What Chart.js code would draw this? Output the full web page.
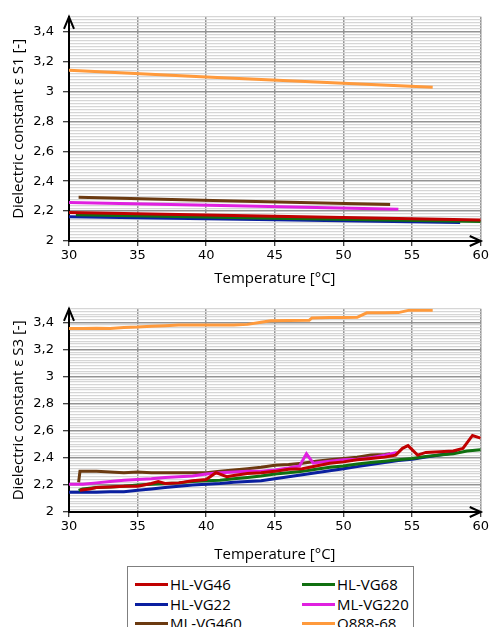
<!DOCTYPE html>
<html>
<head>
<meta charset="utf-8">
<script src="https://cdn.jsdelivr.net/npm/chart.js@4"></script>
<style>
  body { margin: 0; background: #fff; width: 491px; height: 627px; overflow: hidden; position: relative; }
  #c1 { position: absolute; left: 0; top: 0; }
  #c2 { position: absolute; left: 0; top: 292px; }
  #legend {
    position: absolute; left: 127px; top: 566px; width: 285px; height: 70px;
    border: 1px solid #7f7f7f; background: #fff;
    font-family: "Open Sans", sans-serif; font-size: 15px; color: #000;
  }
  .item { position: absolute; height: 20px; line-height: 20px; white-space: nowrap; }
  .item span.swatch { position: absolute; left: 0; top: 9px; width: 33px; height: 3px; }
  .item span.lbl { position: absolute; left: 35px; top: 0; }
</style>
</head>
<body>
<canvas id="c1" width="491" height="292"></canvas>
<canvas id="c2" width="491" height="276"></canvas>
<div id="legend"></div>
<script>
// series names and colours
const seriesNames = ['HL-VG46', 'HL-VG68', 'HL-VG22', 'ML-VG220', 'ML-VG460', 'Q888-68'];
const seriesColors = ['#c00000', '#107010', '#0a1fa0', '#e020e0', '#6b3a10', '#ff9a3c'];

// axis ticks
const xTicks = [30, 35, 40, 45, 50, 55, 60];
const yMin = 2, yMax = 3.5;

// chart 1 (S1) - temperature / dielectric constant
const s1_HL_VG46_T = [30, 45, 60];
const s1_HL_VG46 = [2.19, 2.165, 2.14];
const s1_HL_VG68_T = [30.5, 45, 60];
const s1_HL_VG68 = [2.175, 2.152, 2.13];
const s1_HL_VG22_T = [30, 45, 58.5];
const s1_HL_VG22 = [2.162, 2.142, 2.123];
const s1_ML_VG220_T = [30, 42, 54];
const s1_ML_VG220 = [2.258, 2.236, 2.213];
const s1_ML_VG460_T = [30.7, 42, 53.4];
const s1_ML_VG460 = [2.292, 2.268, 2.245];
const s1_Q888_68_T = [30, 40, 50, 56.5];
const s1_Q888_68 = [3.142, 3.097, 3.055, 3.028];

// chart 2 (S3)
const s3_HL_VG46_T = [30.8, 31.5, 32, 33, 34, 35, 36, 36.5, 37, 38, 39, 40, 40.7, 41.5, 42, 43, 44, 45, 46, 47, 48, 49, 50, 51, 52, 53, 53.8, 54.3, 54.7, 55.4, 56, 57, 58, 58.7, 59.4, 60];
const s3_HL_VG46 = [2.16, 2.17, 2.18, 2.185, 2.19, 2.19, 2.21, 2.225, 2.21, 2.215, 2.23, 2.24, 2.29, 2.26, 2.27, 2.285, 2.29, 2.30, 2.315, 2.32, 2.34, 2.36, 2.37, 2.385, 2.395, 2.405, 2.42, 2.47, 2.49, 2.42, 2.44, 2.445, 2.45, 2.47, 2.565, 2.545];
const s3_HL_VG68_T = [30.7, 31, 32, 33, 34, 35, 36, 37, 38, 39, 40, 41, 42, 43, 44, 45, 46, 47, 48, 49, 50, 51, 52, 53, 54, 55, 56, 57, 58, 59, 60];
const s3_HL_VG68 = [2.16, 2.17, 2.18, 2.185, 2.19, 2.20, 2.205, 2.21, 2.215, 2.225, 2.23, 2.235, 2.245, 2.255, 2.265, 2.28, 2.29, 2.30, 2.315, 2.33, 2.34, 2.355, 2.365, 2.375, 2.385, 2.395, 2.41, 2.42, 2.43, 2.45, 2.46];
const s3_HL_VG22_T = [30, 31, 32, 33, 34, 35, 36, 37, 38, 39, 40, 41, 42, 43, 44, 45, 46, 47, 48, 49, 50, 51, 52, 53, 54, 55, 56, 57, 58, 58.3];
const s3_HL_VG22 = [2.145, 2.145, 2.145, 2.15, 2.15, 2.16, 2.17, 2.18, 2.19, 2.20, 2.205, 2.21, 2.22, 2.225, 2.23, 2.245, 2.26, 2.275, 2.29, 2.305, 2.32, 2.335, 2.35, 2.365, 2.38, 2.39, 2.405, 2.42, 2.435, 2.44];
const s3_ML_VG220_T = [30, 31, 32, 33, 34, 35, 36, 37, 38, 39, 40, 41, 42, 43, 44, 45, 46, 46.8, 47.3, 47.8, 48.5, 49, 50, 51, 52, 53, 53.9];
const s3_ML_VG220 = [2.205, 2.205, 2.215, 2.225, 2.235, 2.24, 2.245, 2.255, 2.26, 2.265, 2.28, 2.29, 2.295, 2.30, 2.30, 2.31, 2.325, 2.34, 2.43, 2.36, 2.37, 2.375, 2.385, 2.39, 2.40, 2.42, 2.44];
const s3_ML_VG460_T = [30.7, 30.8, 32, 33, 34, 35, 36, 37, 38, 39, 40, 41, 42, 43, 44, 45, 46, 47, 48, 49, 50, 51, 52, 53, 53.4];
const s3_ML_VG460 = [2.22, 2.30, 2.30, 2.295, 2.29, 2.295, 2.29, 2.29, 2.29, 2.29, 2.29, 2.30, 2.31, 2.32, 2.33, 2.345, 2.35, 2.36, 2.375, 2.385, 2.395, 2.405, 2.42, 2.425, 2.43];
const s3_Q888_68_T = [30, 31, 32, 33, 34, 35, 36, 37, 38, 39, 40, 41, 42, 43, 44, 44.7, 46, 47.5, 47.7, 49, 50, 51, 51.7, 53, 54, 54.8, 55.5, 56.5];
const s3_Q888_68 = [3.355, 3.355, 3.357, 3.355, 3.362, 3.365, 3.372, 3.375, 3.38, 3.38, 3.38, 3.38, 3.38, 3.385, 3.40, 3.412, 3.414, 3.415, 3.433, 3.435, 3.435, 3.437, 3.47, 3.47, 3.472, 3.49, 3.49, 3.49];

function pts(xs, ys) {
  return xs.map((x, i) => ({x: x, y: ys[i]}));
}

function isMajor(v) {
  return Math.abs(v * 5 - Math.round(v * 5)) < 1e-6;
}

function fmt(v) {
  return (Math.round(v * 10) / 10).toString().replace('.', ',');
}

const tickFont = {family: 'DejaVu Sans', size: 13};
const titleFont = {family: 'Open Sans', size: 15};

// arrows at the end of both axes
const arrowPlugin = {
  id: 'arrows',
  afterDraw(chart) {
    const a = chart.chartArea;
    const c = chart.ctx;
    c.save();
    c.strokeStyle = '#000';
    c.lineWidth = 2;
    c.beginPath();
    c.moveTo(a.left - 5, a.top + 12);
    c.lineTo(a.left, a.top);
    c.lineTo(a.left + 5, a.top + 12);
    c.moveTo(a.right - 11, a.bottom - 5);
    c.lineTo(a.right, a.bottom);
    c.lineTo(a.right - 11, a.bottom + 5);
    c.stroke();
    c.restore();
  }
};

function makeChart(id, sets, yTitle, padTop, xHeight) {
  const datasets = sets.map((s, i) => ({
    label: seriesNames[i],
    data: pts(s[0], s[1]),
    borderColor: seriesColors[i],
    backgroundColor: seriesColors[i],
    borderWidth: 3,
    pointRadius: 0,
    tension: 0,
    fill: false
  }));
  return new Chart(document.getElementById(id), {
    type: 'line',
    data: {datasets: datasets},
    plugins: [arrowPlugin],
    options: {
      responsive: false,
      animation: false,
      layout: {padding: {top: padTop, left: 0, right: 8, bottom: 0}},
      plugins: {legend: {display: false}, tooltip: {enabled: false}},
      scales: {
        x: {
          type: 'linear',
          min: 30, max: 60,
          afterFit: (s) => { s.height = xHeight; },
          afterBuildTicks: (s) => { s.ticks = xTicks.map(v => ({value: v})); },
          border: {color: '#000', width: 2},
          grid: {color: '#939393', lineWidth: 1.5, tickLength: 5, tickColor: '#000', tickWidth: 1},
          ticks: {font: tickFont, color: '#000', padding: 2, maxRotation: 0},
          title: {display: true, text: 'Temperature [°C]', font: titleFont, color: '#000', padding: {top: 0, bottom: 4}}
        },
        y: {
          min: yMin, max: yMax,
          afterFit: (s) => { s.width = 69; },
          border: {color: '#000', width: 2},
          grid: {
            color: (ctx) => isMajor(ctx.tick.value) ? '#939393' : '#d6d6d6',
            lineWidth: (ctx) => isMajor(ctx.tick.value) ? 1.5 : 1.2,
            tickLength: 6,
            tickColor: (ctx) => isMajor(ctx.tick.value) ? '#000' : 'rgba(0,0,0,0)',
            tickWidth: 1
          },
          ticks: {
            stepSize: 0.02,
            autoSkip: false,
            font: tickFont,
            color: '#000',
            padding: 9,
            callback: (v) => isMajor(v) ? fmt(v) : ''
          },
          title: {display: true, text: yTitle, font: titleFont, color: '#000', padding: {top: 10, bottom: 0}}
        }
      }
    }
  });
}

makeChart('c1', [
  [s1_HL_VG46_T, s1_HL_VG46],
  [s1_HL_VG68_T, s1_HL_VG68],
  [s1_HL_VG22_T, s1_HL_VG22],
  [s1_ML_VG220_T, s1_ML_VG220],
  [s1_ML_VG460_T, s1_ML_VG460],
  [s1_Q888_68_T, s1_Q888_68]
], 'Dielectric constant ε S1 [-]', 9, 51);

makeChart('c2', [
  [s3_HL_VG46_T, s3_HL_VG46],
  [s3_HL_VG68_T, s3_HL_VG68],
  [s3_HL_VG22_T, s3_HL_VG22],
  [s3_ML_VG220_T, s3_ML_VG220],
  [s3_ML_VG460_T, s3_ML_VG460],
  [s3_Q888_68_T, s3_Q888_68]
], 'Dielectric constant ε S3 [-]', 12, 56);

// legend: two columns
const legendOrder = [0, 1, 2, 3, 4, 5];
const legendBox = document.getElementById('legend');
legendOrder.forEach((i, k) => {
  const el = document.createElement('div');
  el.className = 'item';
  el.style.left = (k % 2 === 0 ? 7 : 174) + 'px';
  el.style.top = (7 + Math.floor(k / 2) * 19.5) + 'px';
  el.innerHTML = '<span class="swatch" style="background:' + seriesColors[i] + '"></span><span class="lbl">' + seriesNames[i] + '</span>';
  legendBox.appendChild(el);
});
</script>
</body>
</html>
